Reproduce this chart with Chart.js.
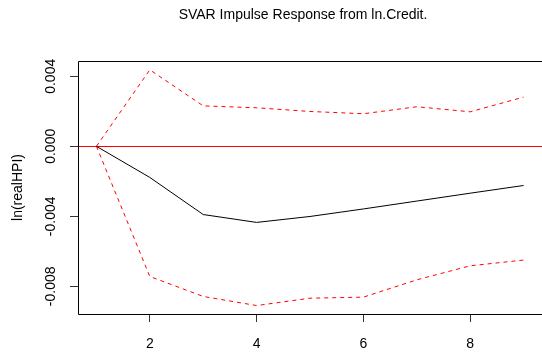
<!DOCTYPE html>
<html>
<head>
<meta charset="utf-8">
<script src="https://cdn.jsdelivr.net/npm/chart.js@4.4.1/dist/chart.umd.min.js"></script>
<style>
  html, body { margin: 0; padding: 0; background: #fff; }
  #wrap { width: 542px; height: 358px; }
</style>
</head>
<body>
<div id="wrap"><canvas id="irfChart" width="542" height="358"></canvas></div>
<script>
// impulse response of ln(realHPI) to a shock in ln.Credit
const horizon = [1, 2, 3, 4, 5, 6, 7, 8, 9];
const irf   = [0, -0.00178, -0.00390, -0.00435, -0.00401, -0.00358, -0.00313, -0.00268, -0.00224];
const upper = [0, 0.00437, 0.00231, 0.00220, 0.00199, 0.00186, 0.00226, 0.00197, 0.00281];
const lower = [0, -0.00744, -0.00858, -0.00910, -0.00868, -0.00862, -0.00763, -0.00683, -0.00650];

const xTicks = [2, 4, 6, 8];
const yTicks = [-0.008, -0.006, -0.004, -0.002, 0, 0.002, 0.004];
const yTickLabels = ['-0.008', '', '-0.004', '', '0.000', '', '0.004'];

const titleText = 'SVAR Impulse Response from ln.Credit.';
const yTitle = 'ln(realHPI)';

function toPoints(vals) {
    return horizon.map((h, i) => ({ x: h, y: vals[i] }));
}

const fontFamily = '"Liberation Sans", Arial, sans-serif';

// title and box drawn like R's plot()
const rStyle = {
    id: 'rStyle',
    afterDraw(chart) {
        const ctx = chart.ctx;
        const a = chart.chartArea;
        ctx.save();
        ctx.strokeStyle = '#000';
        ctx.lineWidth = 1;
        ctx.beginPath();
        ctx.moveTo(a.right + 2, a.top + 0.5);
        ctx.lineTo(a.left + 0.5, a.top + 0.5);
        ctx.lineTo(a.left + 0.5, a.bottom + 0.5);
        ctx.lineTo(a.right + 2, a.bottom + 0.5);
        ctx.stroke();
        ctx.fillStyle = '#000';
        ctx.font = '14px ' + fontFamily;
        ctx.textAlign = 'center';
        ctx.textBaseline = 'alphabetic';
        ctx.fillText(titleText, 303, 19);
        ctx.restore();
    }
};

const ctx = document.getElementById('irfChart').getContext('2d');
const irfChart = new Chart(ctx, {
    type: 'line',
    data: {
        datasets: [{
            label: 'irf',
            data: toPoints(irf),
            borderColor: '#000',
            borderWidth: 1,
            pointRadius: 0,
            tension: 0
        }, {
            label: 'upper',
            data: toPoints(upper),
            borderColor: '#ff0000',
            borderWidth: 1,
            borderDash: [4, 4],
            pointRadius: 0,
            tension: 0
        }, {
            label: 'lower',
            data: toPoints(lower),
            borderColor: '#ff0000',
            borderWidth: 1,
            borderDash: [4, 4],
            pointRadius: 0,
            tension: 0
        }]
    },
    options: {
        responsive: false,
        animation: false,
        devicePixelRatio: 1,
        layout: { padding: { top: 61, right: -2, bottom: 0, left: 0 } },
        plugins: {
            legend: { display: false },
            tooltip: { enabled: false },
            title: { display: false }
        },
        scales: {
            x: {
                type: 'linear',
                min: 0.655,
                max: 9.345,
                afterBuildTicks: s => { s.ticks = xTicks.map(v => ({ value: v })); },
                afterFit: s => { s.height = 44; },
                border: { display: false },
                grid: {
                    drawOnChartArea: false,
                    drawTicks: true,
                    tickLength: 8,
                    tickColor: '#333'
                },
                ticks: {
                    color: '#000',
                    padding: 14,
                    maxRotation: 0,
                    font: { family: fontFamily, size: 14 },
                    callback: v => String(v)
                }
            },
            y: {
                type: 'linear',
                min: -0.009583,
                max: 0.004874,
                afterBuildTicks: s => { s.ticks = yTicks.map(v => ({ value: v })); },
                afterFit: s => { s.width = 78; },
                border: { display: false },
                grid: {
                    drawOnChartArea: true,
                    drawTicks: true,
                    tickLength: 8,
                    color: c => (c.tick && c.tick.value === 0 ? '#ff0000' : 'rgba(0,0,0,0)'),
                    tickColor: '#333'
                },
                title: {
                    display: true,
                    text: yTitle,
                    color: '#000',
                    padding: { top: 10, bottom: 0 },
                    font: { family: fontFamily, size: 14 }
                },
                ticks: {
                    color: '#000',
                    minRotation: 90,
                    maxRotation: 90,
                    crossAlign: 'center',
                    padding: -1,
                    font: { family: fontFamily, size: 14 },
                    callback: (v, i) => {
                        const k = yTicks.findIndex(t => Math.abs(t - v) < 1e-9);
                        return k >= 0 ? yTickLabels[k] : '';
                    }
                }
            }
        }
    },
    plugins: [rStyle]
});
</script>
</body>
</html>
